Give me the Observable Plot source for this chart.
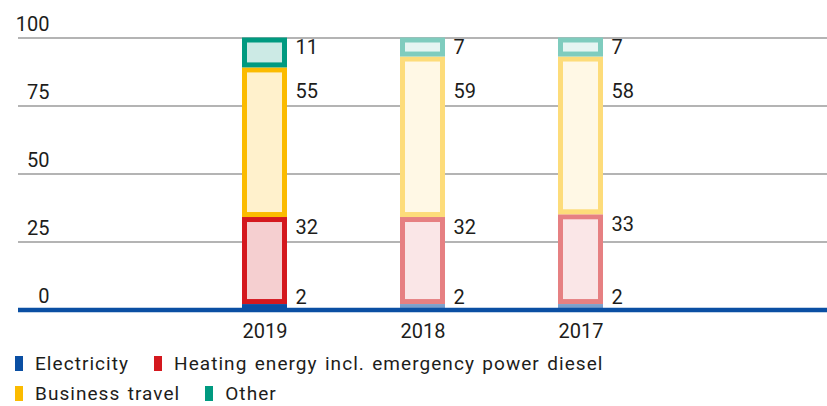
<!DOCTYPE html>
<html><head><meta charset="utf-8">
<script src="https://cdn.jsdelivr.net/npm/d3@7"></script>
<script src="https://cdn.jsdelivr.net/npm/@observablehq/plot@0.6"></script>
<style>
body{margin:0;background:#fff;font-family:Roboto,sans-serif;color:#1d1d1b;overflow:hidden}
#chart svg{display:block}
#legend{padding-top:9px;font-size:19px;padding-left:15px;letter-spacing:1.05px;word-spacing:1.6px}
.row{display:flex;align-items:center;height:18px;gap:25px}
.row + .row{margin-top:12.6px}
.item{display:flex;align-items:center}
.sw{width:7.5px;height:15px;margin-right:12.5px;display:inline-block}
.tx{display:block;height:15px;line-height:15px;white-space:nowrap}
</style></head><body><div id="chart"></div><div id="legend"></div>
<script>
const years = ["2019", "2018", "2017"];
const seriesNames = ["Electricity", "Heating energy incl. emergency power diesel", "Business travel", "Other"];
const electricity = [2, 2, 2];
const heating = [32, 32, 33];
const business = [55, 59, 58];
const other = [11, 7, 7];
const yTicks = [0, 25, 50, 75, 100];
const highlightYear = "2019";

const strong = {"Electricity":"#0a4fa3","Heating energy incl. emergency power diesel":"#d4181e","Business travel":"#fbbb00","Other":"#009a80"};
const strongFill = {"Electricity":"#0a4fa3","Heating energy incl. emergency power diesel":"#f5cfd0","Business travel":"#fff1cc","Other":"#cceae5"};
const pale = {"Electricity":"#7b9fcb","Heating energy incl. emergency power diesel":"#e68082","Business travel":"#fddc7a","Other":"#7fccbe"};
const paleFill = {"Electricity":"#7b9fcb","Heating energy incl. emergency power diesel":"#fae6e7","Business travel":"#fff8e5","Other":"#e6f5f2"};

const valuesBySeries = [electricity, heating, business, other];
const rows = [];
years.forEach((year, i) => {
  let base = 0;
  const yr = [];
  seriesNames.forEach((s, j) => {
    const v = valuesBySeries[j][i];
    yr.push({year, series: s, value: v, y1: base, y2: base + v});
    base += v;
  });
  // label positions: from top segment downward, avoid overlaps
  let prev = Infinity;
  for (let k = yr.length - 1; k >= 0; k--) {
    let lab = Math.min(yr[k].y2 - 6, prev - 16);
    if (k === 0) lab = Math.max(lab, 2.3);
    yr[k].labelY = lab;
    prev = lab;
  }
  rows.push(...yr);
});
const hi = d => d.year === highlightYear;
const strokeOf = d => hi(d) ? strong[d.series] : pale[d.series];
const fillOf = d => hi(d) ? strongFill[d.series] : paleFill[d.series];

const boxed = rows.filter(d => d.series !== "Electricity");
const elec = rows.filter(d => d.series === "Electricity");

const chart = Plot.plot({
  width: 827, height: 345,
  marginLeft: 18, marginRight: 0, marginTop: 37.5, marginBottom: 35.5,
  style: {fontFamily: "Roboto, sans-serif", fontSize: "20px", color: "#1d1d1b", background: "#fff"},
  x: {domain: years, range: [185, 660.5], paddingInner: 0.716, paddingOuter: 0.358, align: 0.5, axis: null},
  y: {domain: [0, 100], axis: null},
  color: {type: "identity"},
  marks: [
    Plot.ruleY(yTicks.filter(t => t > 0), {stroke: "#9b9b9b", strokeWidth: 1.4}),
    Plot.rectY(boxed, {x: "year", y1: "y1", y2: "y2", fill: fillOf, stroke: strokeOf, strokeWidth: 5, inset: 2.5}),
    Plot.rectY(elec, {x: "year", y1: "y1", y2: "y2", fill: strokeOf}),
    Plot.ruleY([0], {stroke: "#0a4fa3", strokeWidth: 4.5}),
    Plot.text(yTicks, {y: d => d, text: d => String(d), frameAnchor: "left", dx: 31, textAnchor: "end", lineAnchor: "bottom", dy: -7, fill: "#1d1d1b"}),
    Plot.text(rows, {x: "year", y: "labelY", text: d => String(d.value), dx: 30.5, textAnchor: "start", lineAnchor: "bottom", fill: "#1d1d1b"}),
    Plot.text(years, {x: d => d, y: () => 0, text: d => d, lineAnchor: "bottom", dy: 27.8, fill: "#1d1d1b"})
  ]
});
document.getElementById("chart").append(chart);

const legendRows = [[seriesNames[0], seriesNames[1]], [seriesNames[2], seriesNames[3]]];
const leg = document.getElementById("legend");
legendRows.forEach(r => {
  const row = document.createElement("div");
  row.className = "row";
  r.forEach(s => {
    const it = document.createElement("div");
    it.className = "item";
    const sw = document.createElement("span");
    sw.className = "sw";
    sw.style.background = strong[s];
    const tx = document.createElement("span");
    tx.className = "tx";
    tx.textContent = s;
    it.append(sw, tx);
    row.append(it);
  });
  leg.append(row);
});
</script>
</body></html>
